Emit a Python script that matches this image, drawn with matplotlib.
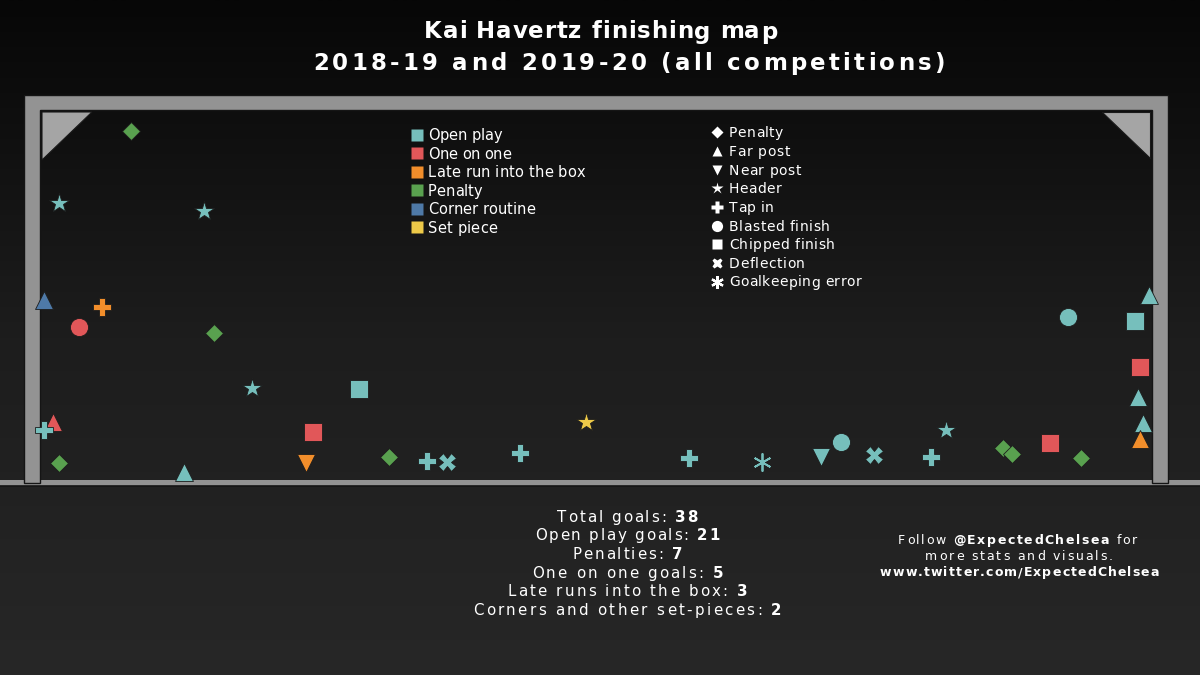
import numpy as np
import matplotlib
matplotlib.use('Agg')
import matplotlib.pyplot as plt
from matplotlib import font_manager
from matplotlib.patches import Polygon, Rectangle
from matplotlib.colors import LinearSegmentedColormap

try:
    from matplotlib.ft2font import LoadFlags
    NOHINT = LoadFlags.NO_HINTING
except ImportError:
    from matplotlib.ft2font import LOAD_NO_HINTING as NOHINT

plt.rcParams['font.family'] = ['DejaVu Sans']

# ---------------- data (goal coordinates in metres: x across 0-7.32, y height 0-2.44) -------------
shot_x = [0.599, 0.125, 1.080, 0.026, 0.408, 0.257, 1.145, 1.396, 2.100, 0.086,
          0.026, 0.125, 0.948, 1.797, 1.751, 2.297, 2.547, 2.679, 3.160, 3.594,
          4.272, 4.753, 5.141, 5.273, 5.490, 5.865, 5.964, 6.340, 6.398, 6.648,
          6.853, 6.766, 7.300, 7.208, 7.241, 7.228, 7.261, 7.241]
shot_y = [2.303, 1.832, 1.779, 1.197, 1.151, 1.020, 0.981, 0.621, 0.615, 0.399,
          0.347, 0.131, 0.072, 0.334, 0.131, 0.170, 0.144, 0.137, 0.196, 0.399,
          0.164, 0.137, 0.170, 0.268, 0.183, 0.170, 0.347, 0.229, 0.190, 0.262,
          0.164, 1.086, 1.230, 1.060, 0.759, 0.563, 0.393, 0.288]
shot_type = ['Penalty', 'Open play', 'Open play', 'Corner routine', 'Late run into the box',
             'One on one', 'Penalty', 'Open play', 'Open play', 'One on one',
             'Open play', 'Penalty', 'Open play', 'One on one', 'Late run into the box',
             'Penalty', 'Open play', 'Open play', 'Open play', 'Set piece',
             'Open play', 'Open play', 'Open play', 'Open play', 'Open play',
             'Open play', 'Open play', 'Penalty', 'Penalty', 'One on one',
             'Penalty', 'Open play', 'Open play', 'Open play', 'One on one',
             'Open play', 'Open play', 'Late run into the box']
shot_finish = ['Penalty', 'Header', 'Header', 'Far post', 'Tap in',
               'Blasted finish', 'Penalty', 'Header', 'Chipped finish', 'Far post',
               'Tap in', 'Penalty', 'Far post', 'Chipped finish', 'Near post',
               'Penalty', 'Tap in', 'Deflection', 'Tap in', 'Header',
               'Tap in', 'Goalkeeping error', 'Near post', 'Blasted finish', 'Deflection',
               'Tap in', 'Header', 'Penalty', 'Penalty', 'Chipped finish',
               'Penalty', 'Blasted finish', 'Far post', 'Chipped finish', 'Chipped finish',
               'Far post', 'Far post', 'Far post']

categories = ['Open play', 'One on one', 'Late run into the box', 'Penalty',
              'Corner routine', 'Set piece']
finishes = ['Penalty', 'Far post', 'Near post', 'Header', 'Tap in', 'Blasted finish',
            'Chipped finish', 'Deflection', 'Goalkeeping error']

stat_labels = ['Total goals: ', 'Open play goals: ', 'Penalties: ', 'One on one goals: ',
               'Late runs into the box: ', 'Corners and other set-pieces: ']
stat_values = [38, 21, 7, 5, 3, 2]

title_lines = ['Kai Havertz finishing map', '2018-19 and 2019-20 (all competitions)']
handle = '@ExpectedChelsea'
site = 'www.twitter.com/ExpectedChelsea'

# ---------------- styles -------------
cat_colors = {'Open play': '#76bfbc', 'One on one': '#e15759',
              'Late run into the box': '#f28e2b', 'Penalty': '#59a14f',
              'Corner routine': '#4e79a7', 'Set piece': '#edc948'}
fin_markers = {'Penalty': ('D', 9.3), 'Far post': ('^', 12.5), 'Near post': ('v', 12.5),
               'Header': ('*', 14.5), 'Tap in': ('P', 13), 'Blasted finish': ('o', 13),
               'Chipped finish': ('s', 12.5), 'Deflection': ('X', 12.5),
               'Goalkeeping error': ((6, 2, 0), 13)}

W, H = 1200, 675
DPI = 100


def char_adv(ch, weight, size):
    fp = font_manager.FontProperties(family='DejaVu Sans', weight=weight, size=size)
    f = font_manager.get_font(font_manager.findfont(fp))
    f.set_size(size, DPI)
    g = f.load_char(ord(ch), flags=NOHINT)
    return g.linearHoriAdvance / 65536


def spaced(ax, x_left, baseline, parts, size, width, color='white'):
    """Draw text with letter spacing so that it spans `width` pixels."""
    chars = [(ch, w) for s, w in parts for ch in s]
    advs = [char_adv(ch, w, size) for ch, w in chars]
    track = (width - sum(advs)) / (len(chars) - 1)
    x = x_left
    for (ch, w), a in zip(chars, advs):
        if ch != ' ':
            ax.text(x, baseline, ch, fontsize=size, fontweight=w, ha='left',
                    va='baseline', color=color, zorder=6)
        x += a + track


fig = plt.figure(figsize=(W / DPI, H / DPI), dpi=DPI)
bg = fig.add_axes([0, 0, 1, 1])
bg.set_xlim(0, W)
bg.set_ylim(H, 0)
bg.axis('off')

cmap = LinearSegmentedColormap.from_list('bg', ['#070707', '#1d1d1d', '#272727'])
bg.imshow(np.linspace(0, 1, 256).reshape(-1, 1), extent=[0, W, H, 0], cmap=cmap,
          aspect='auto', zorder=0, interpolation='bilinear')

frame_col = '#939393'
# ground line
bg.add_patch(Rectangle((0, 480), W, 5.5, facecolor=frame_col, edgecolor='none', zorder=2))
bg.plot([0, W], [486, 486], color='#141414', lw=1.2, zorder=2)
# goal frame
frame = Polygon([(24, 483), (24, 95), (1168, 95), (1168, 483), (1152, 483), (1152, 110),
                 (40, 110), (40, 483)], closed=True, facecolor=frame_col,
                edgecolor='#151515', lw=1.0, zorder=3)
bg.add_patch(frame)
bg.add_patch(Polygon([(42, 112), (92, 112), (42, 160)], closed=True, facecolor='#a5a5a5',
                     edgecolor='#1a1a1a', lw=0.8, zorder=3))
bg.add_patch(Polygon([(1102, 112), (1150, 112), (1150, 158)], closed=True, facecolor='#a5a5a5',
                     edgecolor='#1a1a1a', lw=0.8, zorder=3))

# titles
spaced(bg, 424, 38.5, [(title_lines[0], 'bold')], 16.5, 353)
spaced(bg, 313, 70, [(title_lines[1], 'bold')], 16.5, 632)

# legend: shot type (colour)
cat_widths = [74, 83, 157, 54, 107, 69]
for i, c in enumerate(categories):
    base = 140 + i * 18.55
    bg.plot(417, base - 5.3, marker='s', ms=8.0, color=cat_colors[c], mec='none', zorder=5)
    spaced(bg, 428, base, [(c, 'normal')], 10.5, cat_widths[i])

# legend: finish type (marker)
fin_widths = [54, 61, 72, 52, 45, 101, 106, 76, 132]
for i, f in enumerate(finishes):
    base = 137.3 + i * 18.65
    m, ms = fin_markers[f]
    y = base - 5
    if f == 'Goalkeeping error':
        bg.plot(717, y, marker=m, ms=ms * 0.7, color='white', mew=1.6, zorder=5)
    else:
        bg.plot(717, y, marker=m, ms=ms * 0.62, color='white', mec='none', zorder=5)
    spaced(bg, 729, base, [(f, 'normal')], 10.0, fin_widths[i])

# goal axes
gx = fig.add_axes([40 / W, (H - 483) / H, 1112 / W, 373 / H])
gx.set_xlim(0, 7.32)
gx.set_ylim(0, 2.44)
gx.axis('off')
gx.patch.set_alpha(0)
for x, y, t, f in zip(shot_x, shot_y, shot_type, shot_finish):
    m, ms = fin_markers[f]
    col = cat_colors[t]
    if f == 'Goalkeeping error':
        gx.plot(x, y, marker=m, ms=ms, color=col, mew=1.3, clip_on=False, zorder=5)
    else:
        gx.plot(x, y, marker=m, ms=ms, color=col, mec='#1c1c1c', mew=0.6,
                clip_on=False, zorder=5)

# stats block
stat_widths = [140, 185, 110, 191, 240, 309]
for i, (lab, val) in enumerate(zip(stat_labels, stat_values)):
    wdt = stat_widths[i]
    spaced(bg, 627.3 - wdt / 2, 521.7 + i * 18.66,
           [(lab, 'normal'), (str(val), 'bold')], 10.8, wdt)

# credit block
spaced(bg, 1017.5 - 239 / 2, 544, [('Follow ', 'normal'), (handle, 'bold'), (' for', 'normal')],
       9.0, 239)
spaced(bg, 1019 - 188 / 2, 560, [('more stats and visuals.', 'normal')], 9.0, 188)
spaced(bg, 1019.5 - 279 / 2, 576, [(site, 'bold')], 9.0, 279)

fig.savefig('out.png', dpi=DPI)
